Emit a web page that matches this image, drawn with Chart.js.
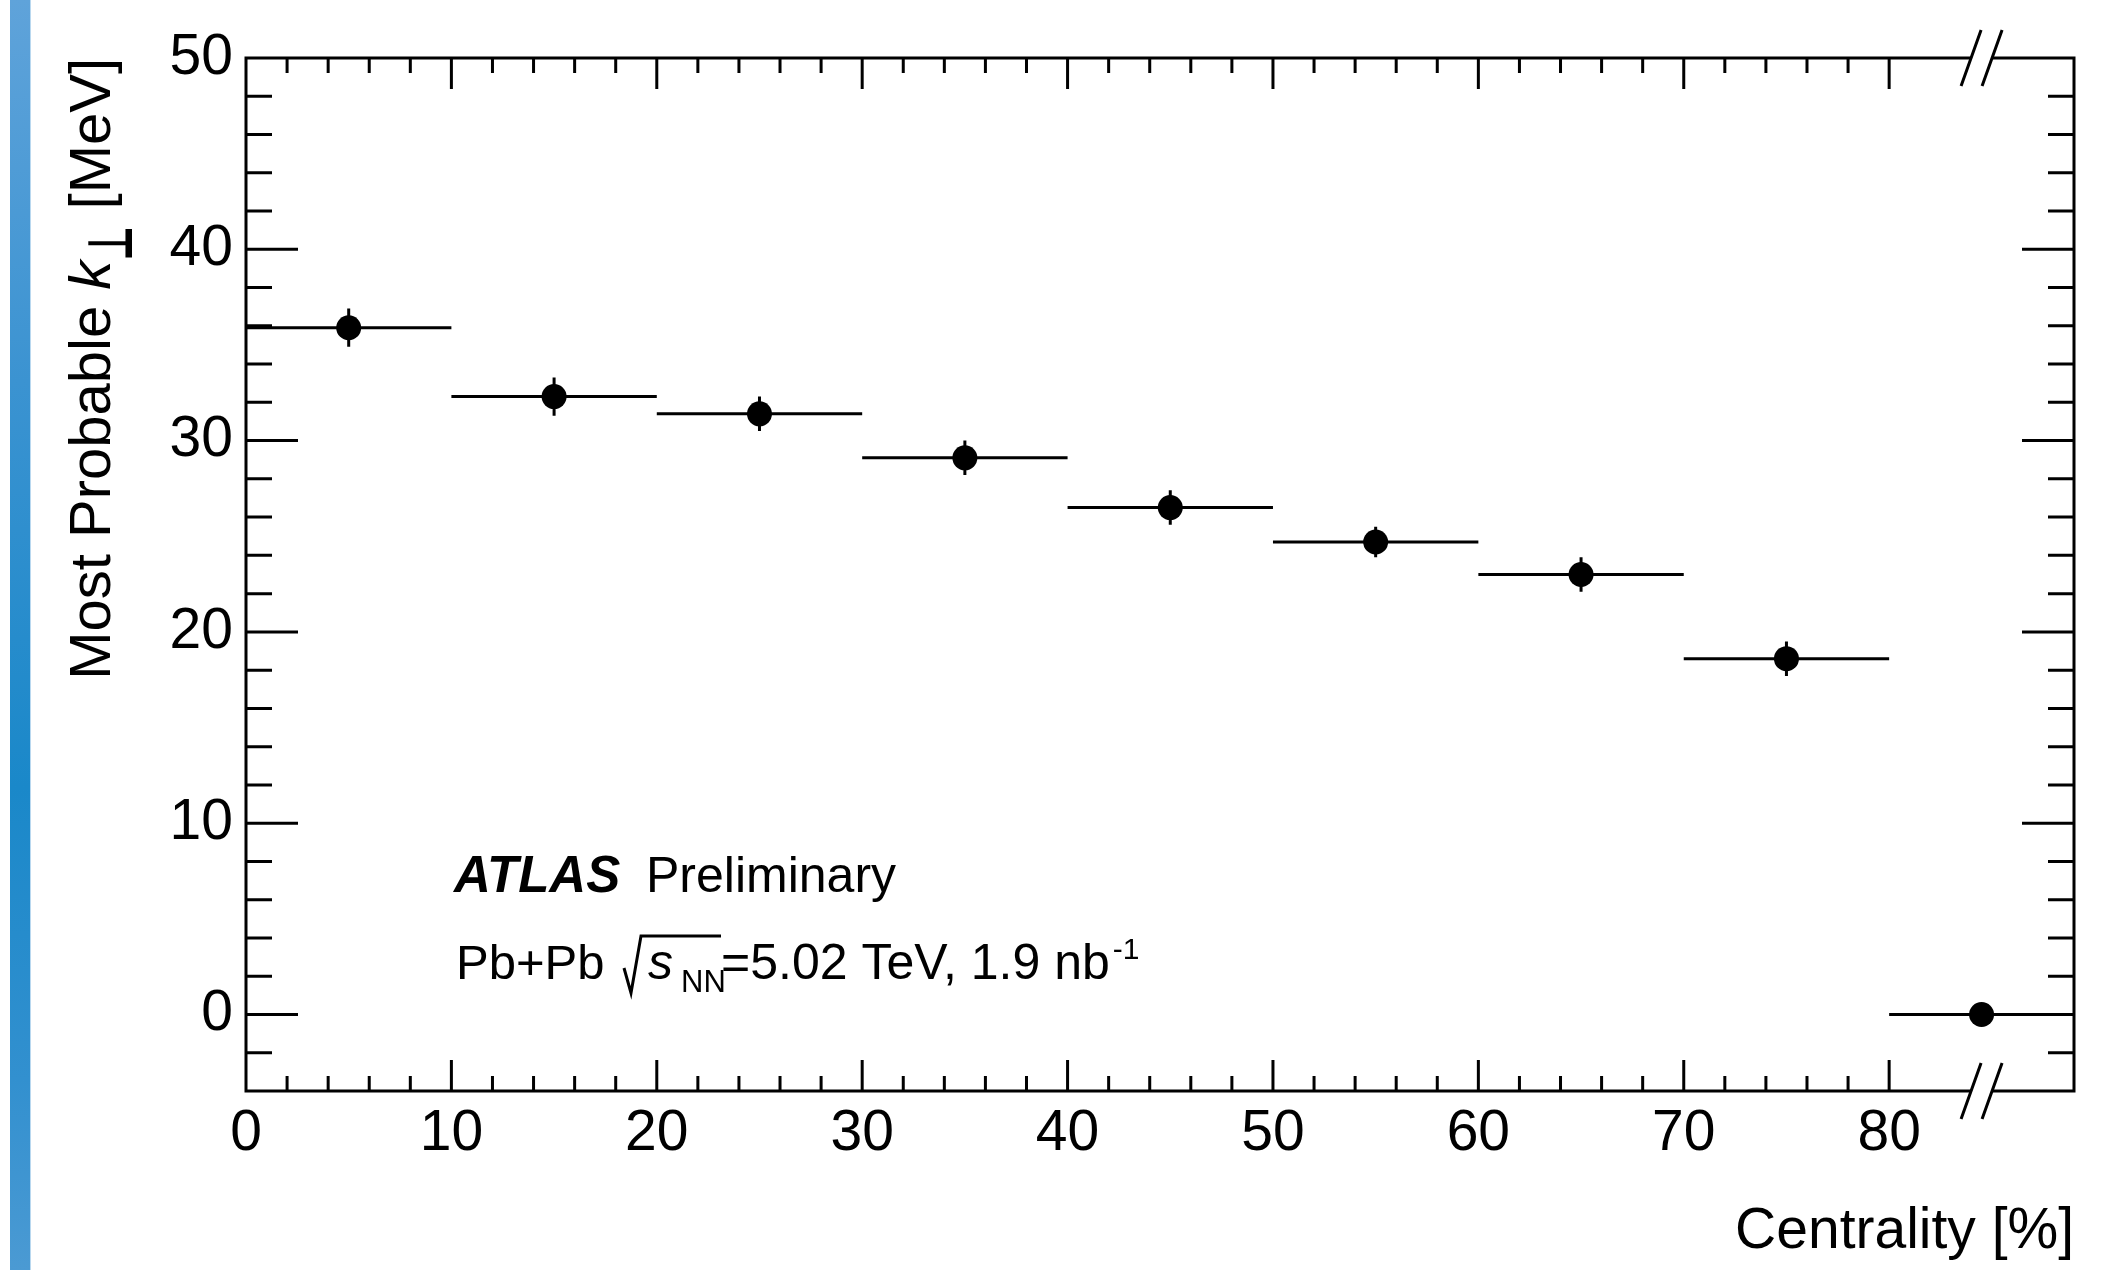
<!DOCTYPE html>
<html>
<head>
<meta charset="utf-8">
<title>Most Probable k vs Centrality</title>
<script src="https://cdn.jsdelivr.net/npm/chart.js@4.4.1/dist/chart.umd.min.js"></script>
<style>
    html, body { margin: 0; padding: 0; background: #ffffff; }
    #wrap { position: relative; width: 2105px; height: 1270px; }
    #strip {
        position: absolute; left: 10px; top: 0; width: 20px; height: 1270px;
        background: linear-gradient(to bottom, #5fa3da 0%, #3b93d1 30%, #1a88c9 62%, #3290cf 85%, #4b9ad3 100%);
        border-right: 1px solid #b9d8ef;
    }
    canvas { position: absolute; left: 0; top: 0; }
</style>
</head>
<body>
<div id="wrap">
    <div id="strip"></div>
    <canvas id="kperpChart" width="2105" height="1270"></canvas>
</div>
<script>
// Data
const centrality = [5, 15, 25, 35, 45, 55, 65, 75, 84.5];
const binLow     = [0, 10, 20, 30, 40, 50, 60, 70, 80];
const binHigh    = [10, 20, 30, 40, 50, 60, 70, 80, 89];
const kPerp      = [35.9, 32.3, 31.4, 29.1, 26.5, 24.7, 23.0, 18.6, 0];
const kPerpErr   = [1.0, 1.0, 0.9, 0.9, 0.9, 0.8, 0.9, 0.9, 0];

// Axes
const xTickValues = [0, 10, 20, 30, 40, 50, 60, 70, 80];
const xTickLabels = ['0', '10', '20', '30', '40', '50', '60', '70', '80'];
const yTickValues = [0, 10, 20, 30, 40, 50];
const yTickLabels = ['0', '10', '20', '30', '40', '50'];
const xRange = [0, 89];
const yRange = [-4, 50];
const xMinorStep = 2;
const yMinorStep = 2;
const xLastTick = 80;     // no ticks past the axis break
const xBreak = 84.5;      // where the // marks sit

const FONT = '"Liberation Sans", Arial, Helvetica, sans-serif';

// Error bars (ROOT style, behind the markers)
const errorBars = {
    id: 'errorBars',
    beforeDatasetsDraw(chart) {
        const ctx = chart.ctx;
        const x = chart.scales.x, y = chart.scales.y;
        ctx.save();
        ctx.strokeStyle = '#000';
        ctx.lineWidth = 3;
        ctx.lineCap = 'butt';
        for (let i = 0; i < centrality.length; i++) {
            const py = y.getPixelForValue(kPerp[i]);
            const px = x.getPixelForValue(centrality[i]);
            ctx.beginPath();
            ctx.moveTo(x.getPixelForValue(binLow[i]), py);
            ctx.lineTo(x.getPixelForValue(binHigh[i]), py);
            if (kPerpErr[i] > 0) {
                ctx.moveTo(px, y.getPixelForValue(kPerp[i] - kPerpErr[i]));
                ctx.lineTo(px, y.getPixelForValue(kPerp[i] + kPerpErr[i]));
            }
            ctx.stroke();
        }
        ctx.restore();
    }
};

// Frame, inward ticks and axis break marks
const frame = {
    id: 'frame',
    afterDatasetsDraw(chart) {
        const ctx = chart.ctx;
        const a = chart.chartArea;
        const x = chart.scales.x, y = chart.scales.y;
        const bx = x.getPixelForValue(xBreak);
        const gap = 12;
        ctx.save();
        ctx.strokeStyle = '#000';
        ctx.lineWidth = 3;
        ctx.lineCap = 'square';

        ctx.beginPath();
        // left and right
        ctx.moveTo(a.left, a.top); ctx.lineTo(a.left, a.bottom);
        ctx.moveTo(a.right, a.top); ctx.lineTo(a.right, a.bottom);
        // top and bottom, broken
        ctx.moveTo(a.left, a.top); ctx.lineTo(bx - gap, a.top);
        ctx.moveTo(bx + gap, a.top); ctx.lineTo(a.right, a.top);
        ctx.moveTo(a.left, a.bottom); ctx.lineTo(bx - gap, a.bottom);
        ctx.moveTo(bx + gap, a.bottom); ctx.lineTo(a.right, a.bottom);
        ctx.stroke();

        ctx.lineCap = 'butt';
        ctx.beginPath();
        // x ticks
        for (let v = xRange[0] + xMinorStep; v <= xLastTick; v += xMinorStep) {
            const px = x.getPixelForValue(v);
            const len = xTickValues.includes(v) ? 31 : 15;
            ctx.moveTo(px, a.bottom); ctx.lineTo(px, a.bottom - len);
            ctx.moveTo(px, a.top); ctx.lineTo(px, a.top + len);
        }
        // y ticks
        for (let v = yRange[0] + yMinorStep; v < yRange[1]; v += yMinorStep) {
            const py = y.getPixelForValue(v);
            const len = yTickValues.includes(v) ? 52 : 26;
            ctx.moveTo(a.left, py); ctx.lineTo(a.left + len, py);
            ctx.moveTo(a.right, py); ctx.lineTo(a.right - len, py);
        }
        ctx.stroke();

        // break marks //
        ctx.beginPath();
        [a.top, a.bottom].forEach(function(ay) {
            [-10.5, 10.5].forEach(function(off) {
                ctx.moveTo(bx + off - 10, ay + 28);
                ctx.lineTo(bx + off + 10, ay - 28);
            });
        });
        ctx.stroke();
        ctx.restore();
    }
};

// Axis titles and the ATLAS label
const labels = {
    id: 'labels',
    afterDraw(chart) {
        const ctx = chart.ctx;
        const a = chart.chartArea;
        ctx.save();
        ctx.fillStyle = '#000';
        ctx.textBaseline = 'alphabetic';

        // x title
        ctx.font = '57px ' + FONT;
        ctx.textAlign = 'right';
        ctx.fillText('Centrality [%]', a.right, 1248);

        // y title, rotated, ending at the top of the frame
        ctx.textAlign = 'left';
        const parts = [
            { t: 'Most Probable ', font: '58px ' + FONT, dy: 0, sx: 1 },
            { t: 'k', font: 'italic 58px ' + FONT, dy: 0, sx: 1 },
            { t: '\u22A5', font: 'bold 62px "DejaVu Sans"', dy: 22, sx: 0.62 },
            { t: ' [MeV]', font: '58px ' + FONT, dy: 0, sx: 1 }
        ];
        let total = 0;
        parts.forEach(function(p) {
            ctx.font = p.font;
            p.w = ctx.measureText(p.t).width * p.sx;
            total += p.w;
        });
        ctx.translate(110, a.top + total);
        ctx.rotate(-Math.PI / 2);
        let pos = 0;
        parts.forEach(function(p) {
            ctx.font = p.font;
            ctx.save();
            ctx.translate(pos, p.dy);
            ctx.scale(p.sx, 1);
            ctx.fillText(p.t, 0, 0);
            ctx.restore();
            pos += p.w;
        });
        ctx.setTransform(1, 0, 0, 1, 0, 0);

        // ATLAS Preliminary
        ctx.font = 'italic bold 51px ' + FONT;
        ctx.fillText('ATLAS', 454, 892);
        ctx.font = '50px ' + FONT;
        ctx.fillText('Preliminary', 646, 892);

        // Pb+Pb sqrt(sNN)=5.02 TeV, 1.9 nb-1
        const base = 979;
        ctx.font = '49px ' + FONT;
        ctx.fillText('Pb+Pb', 456, base);
        ctx.strokeStyle = '#000';
        ctx.lineWidth = 3;
        ctx.beginPath();
        ctx.moveTo(624, 968);
        ctx.lineTo(631, 993);
        ctx.lineTo(641, 936);
        ctx.lineTo(721, 936);
        ctx.stroke();
        ctx.font = 'italic 50px ' + FONT;
        ctx.fillText('s', 648, base);
        ctx.font = '31px ' + FONT;
        ctx.fillText('NN', 681, base + 13);
        ctx.font = '50px ' + FONT;
        ctx.fillText('=5.02 TeV, 1.9 nb', 721, base);
        const nbEnd = 721 + ctx.measureText('=5.02 TeV, 1.9 nb').width;
        ctx.font = '30px ' + FONT;
        ctx.fillText('-1', nbEnd + 3, base - 20);
        ctx.restore();
    }
};

document.addEventListener('DOMContentLoaded', function() {
    const ctx = document.getElementById('kperpChart');

    new Chart(ctx, {
        type: 'scatter',
        data: {
            datasets: [{
                label: 'Most probable k',
                data: centrality.map((c, i) => ({ x: c, y: kPerp[i] })),
                pointRadius: 12.5,
                pointBackgroundColor: '#000',
                pointBorderWidth: 0,
                pointHoverRadius: 12.5,
                showLine: false
            }]
        },
        options: {
            responsive: false,
            animation: false,
            events: [],
            layout: {
                padding: { left: 0, top: 58, right: 31, bottom: 0 }
            },
            plugins: {
                legend: { display: false },
                tooltip: { enabled: false }
            },
            scales: {
                x: {
                    type: 'linear',
                    min: xRange[0],
                    max: xRange[1],
                    grid: { display: false, drawTicks: false },
                    border: { display: false },
                    afterBuildTicks: function(axis) {
                        axis.ticks = xTickValues.map(v => ({ value: v }));
                    },
                    afterFit: function(axis) { axis.height = 179; },
                    ticks: {
                        autoSkip: false,
                        maxRotation: 0,
                        padding: 9,
                        color: '#000',
                        font: { family: FONT, size: 57, lineHeight: 1.2 },
                        callback: function(value) {
                            const i = xTickValues.indexOf(value);
                            return i >= 0 ? xTickLabels[i] : '';
                        }
                    }
                },
                y: {
                    type: 'linear',
                    min: yRange[0],
                    max: yRange[1],
                    grid: { display: false, drawTicks: false },
                    border: { display: false },
                    afterBuildTicks: function(axis) {
                        axis.ticks = yTickValues.map(v => ({ value: v }));
                    },
                    afterFit: function(axis) { axis.width = 246; },
                    ticks: {
                        autoSkip: false,
                        padding: 13,
                        color: '#000',
                        font: { family: FONT, size: 57 },
                        callback: function(value) {
                            const i = yTickValues.indexOf(value);
                            return i >= 0 ? yTickLabels[i] : '';
                        }
                    }
                }
            }
        },
        plugins: [errorBars, frame, labels]
    });
});
</script>
</body>
</html>
